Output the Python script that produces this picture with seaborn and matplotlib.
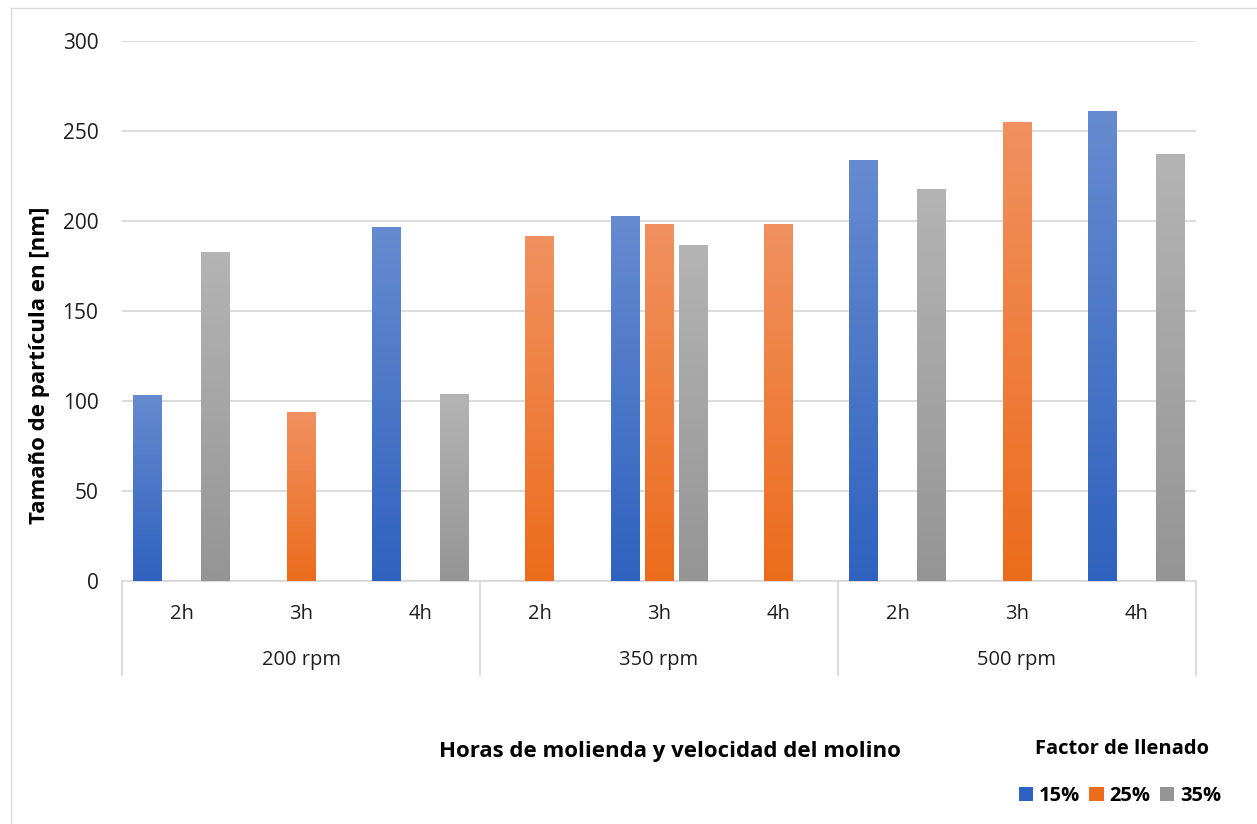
import numpy as np
import pandas as pd
import seaborn as sns
import matplotlib.pyplot as plt
from matplotlib.patches import Patch
from matplotlib.colors import LinearSegmentedColormap
import matplotlib.transforms as mtransforms

# Particle size (nm) by milling speed, milling time and fill factor
speeds = ["200 rpm", "350 rpm", "500 rpm"]
hours = ["2h", "3h", "4h"]
fills = ["15%", "25%", "35%"]
size_15 = [103.5, np.nan, 196.5, np.nan, 202.5, np.nan, 233.8, np.nan, 261.0]
size_25 = [np.nan, 94.0, np.nan, 191.7, 198.3, 198.3, np.nan, 255.0, np.nan]
size_35 = [182.8, np.nan, 104.0, np.nan, 186.7, np.nan, 217.8, np.nan, 237.2]

# Vertical gradient colours per series (top, bottom)
grad = {
    "15%": ("#668bd0", "#2f62bf"),
    "25%": ("#f19160", "#ec6c1c"),
    "35%": ("#b4b4b4", "#959595"),
}

rows = []
labels = [f"{s}|{h}" for s in speeds for h in hours]
for fill, vals in zip(fills, [size_15, size_25, size_35]):
    for lab, v in zip(labels, vals):
        rows.append({"grupo": lab, "factor": fill, "tam": v})
df = pd.DataFrame(rows)

sns.set_theme(style="white")
plt.rcParams["font.family"] = ["Open Sans", "DejaVu Sans"]

W, H = 1257, 824
fig = plt.figure(figsize=(W / 100, H / 100), dpi=100)
ax = fig.add_axes([122 / W, 1 - 581 / H, (1196 - 122) / W, (581 - 41) / H])

sns.barplot(data=df, x="grupo", y="tam", hue="factor", order=labels,
            hue_order=fills, width=0.855, gap=0.15, dodge=True,
            palette=[grad[f][1] for f in fills], legend=False, ax=ax,
            err_kws={"linewidth": 0})

# Replace flat fills with vertical gradients
for cont, fill in zip(ax.containers, fills):
    cmap = LinearSegmentedColormap.from_list(fill, [grad[fill][1], grad[fill][0]])
    for rect in cont:
        h = rect.get_height()
        if not np.isfinite(h) or h <= 0:
            continue
        x0 = rect.get_x()
        w = rect.get_width()
        g = np.linspace(0, 1, 256).reshape(-1, 1)
        im = ax.imshow(g, cmap=cmap, origin="lower", aspect="auto",
                       extent=[x0, x0 + w, 0, h], zorder=3)
        im.set_clip_path(rect)
        rect.set_facecolor("none")
        rect.set_edgecolor("none")

ax.set_xlim(-0.5, 8.5)
ax.set_ylim(0, 300)
ax.set_yticks(range(0, 301, 50))
ax.grid(axis="y", color="#d9d9d9", linewidth=1.3, zorder=0)
ax.set_axisbelow(True)
for side in ["top", "right", "left"]:
    ax.spines[side].set_visible(False)
ax.spines["bottom"].set_color("#d9d9d9")
ax.spines["bottom"].set_linewidth(1.3)
ax.tick_params(axis="y", length=0, pad=17, labelsize=15, labelcolor="#1e1e1e")
ax.set_xticks(range(9))
ax.set_xticklabels([])
ax.tick_params(axis="x", length=0)

trans = mtransforms.blended_transform_factory(ax.transData, ax.transAxes)
for i, lab in enumerate(labels):
    ax.text(i, -33 / 540, lab.split("|")[1], transform=trans, ha="center",
            va="center", fontsize=14.5, color="#1e1e1e")
for j, sp in enumerate(speeds):
    ax.text(3 * j + 1, -79 / 540, sp, transform=trans, ha="center",
            va="center", fontsize=14.5, color="#1e1e1e")
for xs in [-0.5, 2.5, 5.5, 8.5]:
    ax.plot([xs, xs], [0, -94 / 540], transform=trans, color="#d9d9d9",
            linewidth=1.3, clip_on=False)

ax.set_xlabel("")
ax.set_ylabel("")
fig.text(40 / W, 1 - 365 / H, "Tamaño de partícula en [nm]", rotation=90,
         ha="center", va="center", fontsize=16, fontweight="bold", color="black")

fig.text(670 / W, 1 - 752 / H, "Horas de molienda y velocidad del molino",
         ha="center", va="center", fontsize=16, fontweight="bold", color="black")
fig.text(1122 / W, 1 - 749 / H, "Factor de llenado", ha="center",
         va="center", fontsize=14.5, fontweight="bold", color="black")

handles = [Patch(facecolor=grad[f][1], edgecolor="none") for f in fills]
leg = fig.legend(handles, fills, loc="center", bbox_to_anchor=(1120 / W, 1 - 796 / H),
                 ncol=3, frameon=False, handlelength=0.7, handleheight=0.7,
                 handletextpad=0.3, columnspacing=0.45,
                 prop={"weight": "bold", "size": 14.5})
for t in leg.get_texts():
    t.set_color("black")

# Chart area outline
fig.add_artist(plt.Line2D([11 / W, 1], [1 - 8 / H, 1 - 8 / H], transform=fig.transFigure,
                          color="#d9d9d9", linewidth=1))
fig.add_artist(plt.Line2D([11 / W, 11 / W], [0, 1 - 8 / H], transform=fig.transFigure,
                          color="#d9d9d9", linewidth=1))

fig.savefig("out.png", dpi=100, facecolor="white")
